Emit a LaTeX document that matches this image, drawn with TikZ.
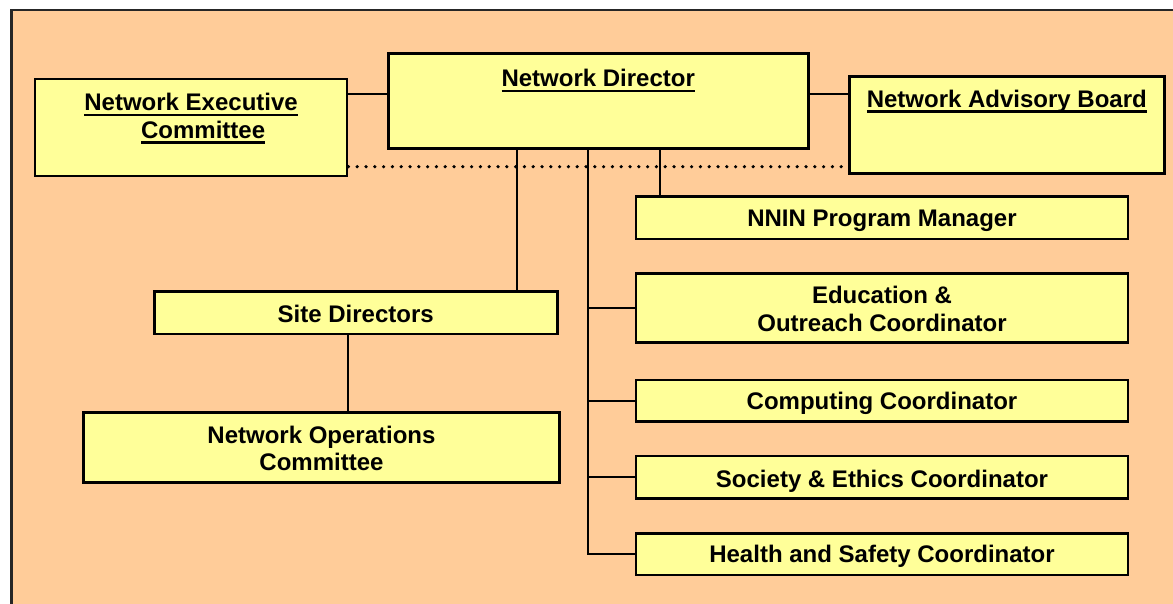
\documentclass[tikz,border=0pt]{standalone}
\usepackage{fontspec}
\setmainfont{Liberation Sans}

\definecolor{peach}{HTML}{FFCC99}
\definecolor{paleyellow}{HTML}{FFFF99}

\newcommand{\ulword}[1]{\setbox0=\hbox{#1}\rlap{\rule[-5.6pt]{\wd0}{2.4pt}}\box0}

\begin{document}
\begin{tikzpicture}[x=1pt,y=-1pt,
	box/.style={draw=black,line width=2.6pt,fill=paleyellow,inner sep=0pt},
	txt/.style={inner sep=0pt,anchor=north,align=center,font=\fontsize{24}{27.5}\selectfont\bfseries},
	link/.style={line width=2.2pt},
	dots/.style={line width=3.6pt,line cap=round,dash pattern=on 0pt off 8.8pt}]

	\useasboundingbox (0,0) rectangle (1173,604);
	\clip (0,0) rectangle (1173,604);
	\fill[white] (0,0) rectangle (1173,604);
	\draw[fill=peach,line width=2.4pt,draw=black!85] (11.5,10) rectangle (1190,620);

	% top row
	\node[box,minimum width=312pt,minimum height=97pt] (nec) at (191.1,127.5) {};
	\node[box,minimum width=420pt,minimum height=95pt] (dir) at (598.2,100.8) {};
	\node[box,minimum width=315pt,minimum height=96.6pt] (nab) at (1006.8,125) {};
	\node[txt] (nect) at (191.1,93.1) {\ulword{Network Executive}\\\hspace*{24pt}\ulword{Committee}};
	\node[txt] (dirt) at (598.2,69.1) {\ulword{Network Director}};
	\node[txt] (nabt) at (1006.8,89.7) {\ulword{Network Advisory Board}};

	% left branch
	\node[box,minimum width=403pt,minimum height=42.3pt] (site) at (355.7,312.8) {};
	\node[box,minimum width=476pt,minimum height=70pt] (noc) at (321.5,447.7) {};
	\node[txt] (sitet) at (355.7,304.7) {Site Directors};
	\node[txt] (noct) at (321.5,425.7) {Network Operations\\Committee};

	% right column
	\node[box,minimum width=492pt,minimum height=42.3pt] (nnin) at (882,217.8) {};
	\node[box,minimum width=492pt,minimum height=69.4pt] (edu) at (882,308) {};
	\node[box,minimum width=492pt,minimum height=41.7pt] (comp) at (882,400.8) {};
	\node[box,minimum width=492pt,minimum height=42.3pt] (soc) at (882,477.2) {};
	\node[box,minimum width=492pt,minimum height=41.7pt] (hsc) at (882,554.2) {};
	\node[txt] (nnint) at (882,209.4) {NNIN Program Manager};
	\node[txt] (edut) at (882,286.4) {Education \&\\Outreach Coordinator};
	\node[txt] (compt) at (882,392.1) {Computing Coordinator};
	\node[txt] (soct) at (882,469.7) {Society \& Ethics Coordinator};
	\node[txt] (hsct) at (882,544.7) {Health and Safety Coordinator};

	\coordinate (tie) at (0,94.3);
	\coordinate (dotrow) at (0,166.7);
	\coordinate (sitex) at (516.6,0);
	\coordinate (nocx) at (348.3,0);
	\coordinate (mgrx) at (659.8,0);
	\coordinate (spine) at (588,0);

	\draw[dots] (nec.east |- dotrow) -- (nab.west |- dotrow);
	\draw[link] (nec.east |- tie) -- (dir.west |- tie);
	\draw[link] (dir.east |- tie) -- (nab.west |- tie);
	\draw[link] (dir.south -| sitex) -- (site.north -| sitex);
	\draw[link] (site.south -| nocx) -- (noc.north -| nocx);
	\draw[link] (dir.south -| mgrx) -- (nnin.north -| mgrx);
	\draw[link] (dir.south -| spine) |- (hsc.west);
	\draw[link] (spine |- edu.west) -- (edu.west);
	\draw[link] (spine |- comp.west) -- (comp.west);
	\draw[link] (spine |- soc.west) -- (soc.west);

\end{tikzpicture}
\end{document}
